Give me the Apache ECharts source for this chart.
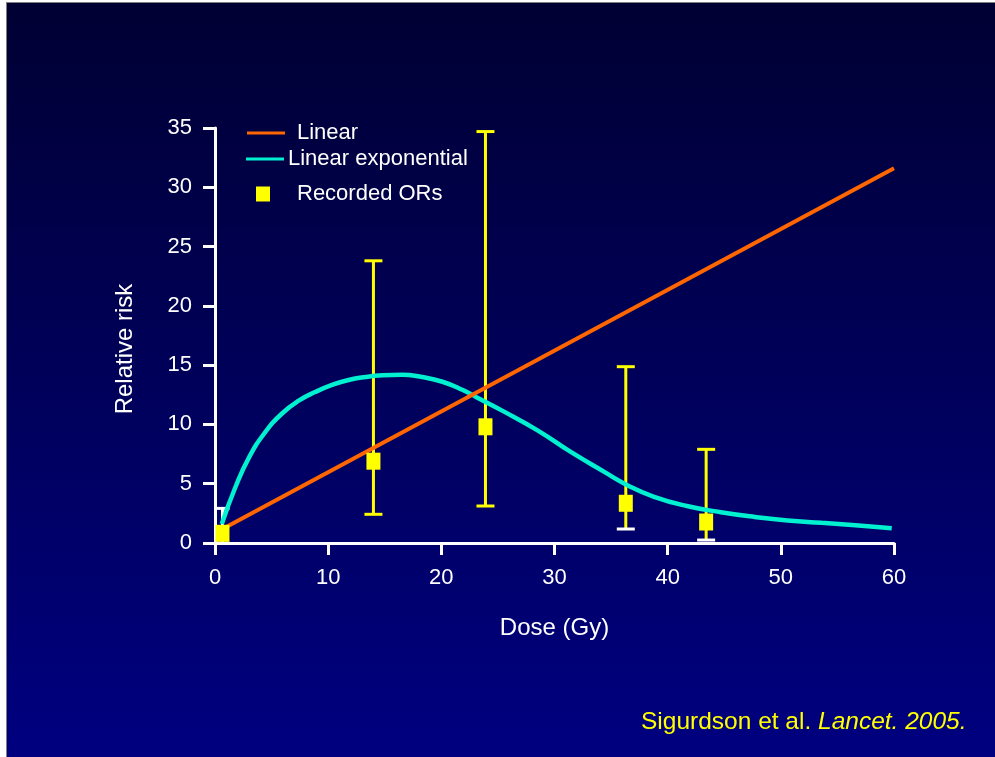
<!DOCTYPE html>
<html>
<head>
<meta charset="utf-8">
<script src="https://cdn.jsdelivr.net/npm/echarts@6/dist/echarts.min.js"></script>
<style>
html,body{margin:0;padding:0;background:#ffffff;}
#chart{width:995px;height:757px;}
</style>
</head>
<body>
<div id="chart"></div>
<script>
// ---- Data ----
const xTicks = [0, 10, 20, 30, 40, 50, 60];
const yTicks = [0, 5, 10, 15, 20, 25, 30, 35];

const linearDose = [0.7, 60];
const linearRR = [1.2, 31.6];

const expDose = [0.6, 1.8, 3.0, 4.4, 5.9, 7.4, 8.9, 10.4, 11.8, 13.3, 14.8, 16.5, 18.3, 20.1, 21.9, 23.1, 25.5, 28.5, 31.4, 34.4, 36.4, 38.8, 41.8, 44.7, 47.7, 50.6, 53.6, 56.6, 59.8];
const expRR = [1.6, 4.7, 7.2, 9.3, 10.9, 12.0, 12.75, 13.35, 13.75, 14.0, 14.15, 14.2, 14.0, 13.6, 12.9, 12.3, 11.1, 9.5, 7.7, 6.0, 4.9, 3.9, 3.1, 2.6, 2.2, 1.9, 1.7, 1.5, 1.25];

const orDose = [0.66, 14.0, 23.9, 36.3, 43.4];
const orValue = [0.82, 6.9, 9.8, 3.35, 1.77];
const orLower = [0.0, 2.42, 3.12, 1.18, 0.25];
const orUpper = [2.92, 23.8, 34.7, 14.87, 7.9];

// ---- Build ----
const linearData = linearDose.map((d, i) => [d, linearRR[i]]);
const expData = expDose.map((d, i) => [d, expRR[i]]);
const orData = orDose.map((d, i) => [d, orValue[i]]);
const ciData = orDose.map((d, i) => [d, orLower[i], orUpper[i]]);

const YELLOW = '#ffff00';
const WHITE = '#ffffff';
// style only: which bars / lower caps are drawn in white in the original
const whiteBar = new Set([0]);
const whiteLowCap = new Set([0, 3, 4]);

const chart = echarts.init(document.getElementById('chart'), null, {renderer: 'canvas'});

const font = 'Arial, "Liberation Sans", Helvetica, sans-serif';

const option = {
  animation: false,
  backgroundColor: '#ffffff',
  graphic: [
    {
      type: 'rect', z: -10, silent: true,
      shape: {x: 6, y: 2, width: 989, height: 755},
      style: {fill: '#7f7f7f'}
    },
    {
      type: 'rect', z: -9, silent: true,
      shape: {x: 7, y: 3, width: 988, height: 754},
      style: {
        fill: new echarts.graphic.LinearGradient(0, 0, 0, 1, [
          {offset: 0, color: '#000033'},
          {offset: 0.55, color: '#00005e'},
          {offset: 1, color: '#000080'}
        ])
      }
    },
    {
      type: 'text', z: 10,
      x: 125, y: 349, rotation: Math.PI / 2,
      style: {
        text: 'Relative risk', fill: WHITE, fontSize: 24, fontFamily: font,
        align: 'center', verticalAlign: 'middle'
      }
    },
    {
      type: 'text', z: 10,
      left: 641, top: 710,
      style: {
        text: '{n|Sigurdson et al. }{i|Lancet. 2005.}',
        rich: {
          n: {fill: YELLOW, fontSize: 24.5, fontFamily: font},
          i: {fill: YELLOW, fontSize: 24.5, fontFamily: font, fontStyle: 'italic'}
        }
      }
    }
  ],
  grid: {left: 215, right: 101, top: 128, bottom: 214, containLabel: false},
  legend: [
    {
      data: [{name: 'Linear', icon: 'rect'}],
      left: 247, top: 122, padding: 0,
      itemWidth: 38, itemHeight: 3,
      textStyle: {color: WHITE, fontSize: 22, fontFamily: font, padding: [0, 0, 0, 7]},
      selectedMode: false
    },
    {
      data: [{name: 'Linear exponential', icon: 'rect'}],
      left: 246, top: 148, padding: 0,
      itemWidth: 38, itemHeight: 3, itemGap: 0,
      textStyle: {color: WHITE, fontSize: 22, fontFamily: font, padding: [0, 0, 0, -1]},
      selectedMode: false
    },
    {
      data: [{name: 'Recorded ORs', icon: 'rect', itemStyle: {opacity: 1}}],
      left: 256, top: 183, padding: 0,
      itemWidth: 14, itemHeight: 15,
      textStyle: {color: WHITE, fontSize: 22, fontFamily: font, padding: [0, 0, 0, 22]},
      selectedMode: false
    }
  ],
  xAxis: {
    type: 'value', min: 0, max: 60, interval: 10,
    name: 'Dose (Gy)', nameLocation: 'middle', nameGap: 73,
    nameTextStyle: {color: WHITE, fontSize: 24, fontFamily: font},
    axisLine: {show: true, onZero: false, lineStyle: {color: WHITE, width: 3}},
    axisTick: {show: true, length: 12, lineStyle: {color: WHITE, width: 3}},
    axisLabel: {color: WHITE, fontSize: 22, fontFamily: font, margin: 24,
      customValues: xTicks},
    splitLine: {show: false}
  },
  yAxis: {
    type: 'value', min: 0, max: 35, interval: 5,
    axisLine: {show: true, onZero: false, lineStyle: {color: WHITE, width: 3}},
    axisTick: {show: true, length: 12, lineStyle: {color: WHITE, width: 3}},
    axisLabel: {color: WHITE, fontSize: 22, fontFamily: font, margin: 23,
      customValues: yTicks},
    splitLine: {show: false}
  },
  series: [
    {
      name: 'CI', type: 'custom', z: 2,
      data: ciData,
      renderItem: function (params, api) {
        const i = params.dataIndex;
        const x = api.value(0);
        const lo = api.coord([x, api.value(1)]);
        const hi = api.coord([x, api.value(2)]);
        const barColor = whiteBar.has(i) ? WHITE : YELLOW;
        const lowColor = whiteLowCap.has(i) ? WHITE : YELLOW;
        const capW = whiteBar.has(i) ? 14 : 18;
        const hw = capW / 2;
        return {
          type: 'group',
          children: [
            {type: 'line', shape: {x1: lo[0], y1: lo[1], x2: hi[0], y2: hi[1]},
              style: {stroke: barColor, lineWidth: 3}},
            {type: 'line', shape: {x1: hi[0] - hw, y1: hi[1], x2: hi[0] + hw, y2: hi[1]},
              style: {stroke: barColor, lineWidth: 3}},
            {type: 'line', shape: {x1: lo[0] - hw, y1: lo[1], x2: lo[0] + hw, y2: lo[1]},
              style: {stroke: lowColor, lineWidth: 3}}
          ]
        };
      },
      encode: {x: 0, y: [1, 2]},
      silent: true
    },
    {
      name: 'Linear exponential', type: 'line', z: 3,
      data: expData, smooth: 0.5, showSymbol: false, symbol: 'none',
      lineStyle: {color: '#00f0d0', width: 4.5},
      itemStyle: {color: '#00f0d0'}
    },
    {
      name: 'Linear', type: 'line', z: 4,
      data: linearData, showSymbol: false, symbol: 'none',
      lineStyle: {color: '#ff6600', width: 4},
      itemStyle: {color: '#ff6600'}
    },
    {
      name: 'Recorded ORs', type: 'scatter', z: 5,
      data: orData, symbol: 'rect', symbolSize: [14, 17],
      itemStyle: {color: YELLOW, opacity: 1}
    }
  ]
};

chart.setOption(option);
</script>
</body>
</html>
